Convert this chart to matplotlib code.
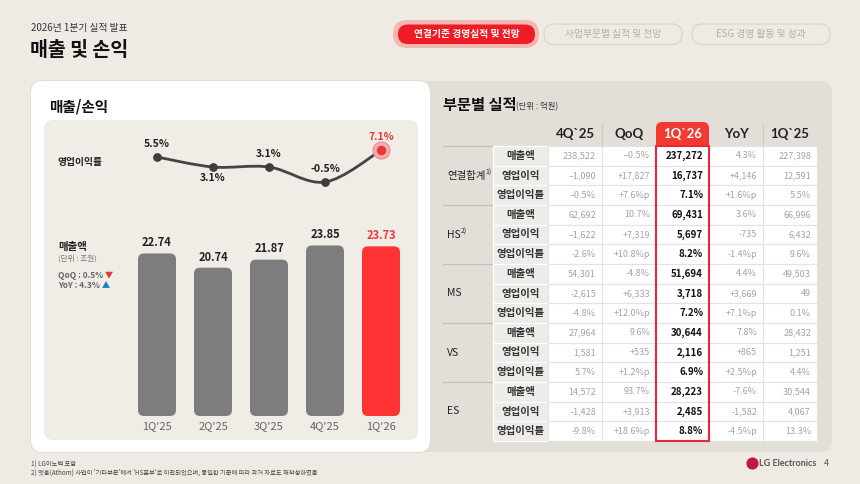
import matplotlib
matplotlib.use("Agg")
import matplotlib.pyplot as plt
from matplotlib.patches import FancyBboxPatch, Rectangle, PathPatch
from matplotlib.path import Path

plt.rcParams['font.family'] = ['Noto Sans CJK KR', 'DejaVu Sans']

# ---------------- data ----------------
quarters = ["1Q'25", "2Q'25", "3Q'25", "4Q'25", "1Q'26"]
sales = [22.74, 20.74, 21.87, 23.85, 23.73]
op_margin = [5.5, 3.1, 3.1, -0.5, 7.1]
margin_label_side = [1, -1, 1, 1, 1]

table_columns = ["4Q`25", "QoQ", "1Q`26", "YoY", "1Q`25"]
segments = ["연결합계", "HS", "MS", "VS", "ES"]
segment_notes = ["1)", "2)", "", "", ""]
metrics = ["매출액", "영업이익", "영업이익률"]
total_rows = [["238,522", "–0.5%", "237,272", "4.3%", "227,398"],
              ["–1,090", "+17,827", "16,737", "+4,146", "12,591"],
              ["–0.5%", "+7.6%p", "7.1%", "+1.6%p", "5.5%"]]
hs_rows = [["62,692", "10.7%", "69,431", "3.6%", "66,996"],
           ["–1,622", "+7,319", "5,697", "-735", "6,432"],
           ["-2.6%", "+10.8%p", "8.2%", "-1.4%p", "9.6%"]]
ms_rows = [["54,301", "-4.8%", "51,694", "4.4%", "49,503"],
           ["-2,615", "+6,333", "3,718", "+3,669", "49"],
           ["-4.8%", "+12.0%p", "7.2%", "+7.1%p", "0.1%"]]
vs_rows = [["27,964", "9.6%", "30,644", "7.8%", "28,432"],
           ["1,581", "+535", "2,116", "+865", "1,251"],
           ["5.7%", "+1.2%p", "6.9%", "+2.5%p", "4.4%"]]
es_rows = [["14,572", "93.7%", "28,223", "-7.6%", "30,544"],
           ["-1,428", "+3,913", "2,485", "-1,582", "4,067"],
           ["-9.8%", "+18.6%p", "8.8%", "-4.5%p", "13.3%"]]
segment_rows = [total_rows, hs_rows, ms_rows, vs_rows, es_rows]
highlight_col = 2

# ---------------- style ----------------
PAGE = "#EFEBE4"
PANEL = "#E3DFD8"
INNER = "#F0EDE7"
RED = "#EE1C25"
BARRED = "#FF3333"
GREY_BAR = "#7D7D7D"
LATIN = ['Lato', 'DejaVu Sans']

W, H = 860, 484
fig = plt.figure(figsize=(W / 100, H / 100), dpi=100)
fig.patch.set_facecolor(PAGE)
bg = fig.add_axes([0, 0, 1, 1])
bg.set_xlim(0, W)
bg.set_ylim(H, 0)
bg.axis('off')


def rbox(ax, x0, y0, x1, y1, r, fc, ec="none", lw=0, z=1, alpha=1):
    p = FancyBboxPatch((x0, y0), x1 - x0, y1 - y0,
                       boxstyle=f"round,pad=0,rounding_size={r}",
                       fc=fc, ec=ec, lw=lw, zorder=z, alpha=alpha)
    ax.add_patch(p)
    return p


# header
bg.text(31, 28.5, "2026년 1분기 실적 발표", fontsize=7, color="#333333", va='center', ha='left')
bg.text(30, 51, "매출 및 손익", fontsize=14, fontweight='bold', color="#111111", va='center', ha='left')

# tabs
rbox(bg, 393, 20, 539, 48, 14, "#F3B8B4", z=1)
rbox(bg, 398, 24.5, 535, 44, 9.7, RED, z=2)
bg.text(466.5, 34.5, "연결기준 경영실적 및 전망", fontsize=7, fontweight='bold', color="white",
        ha='center', va='center', zorder=3)
rbox(bg, 544, 24, 682, 44.5, 10, PAGE, ec="#DCD7CF", lw=1, z=2)
bg.text(613, 34.5, "사업부문별 실적 및 전망", fontsize=7, color="#B5AFA7", ha='center', va='center', zorder=3)
rbox(bg, 692, 24, 830, 44.5, 10, PAGE, ec="#DCD7CF", lw=1, z=2)
bg.text(761, 34.5, "ESG 경영 활동 및 성과", fontsize=7, color="#B5AFA7", ha='center', va='center', zorder=3)

# right panel and left card
rbox(bg, 412, 81, 832, 452, 12, PANEL, z=1)
rbox(bg, 30, 80, 431, 453, 13, "#E2DDD5", z=2)
rbox(bg, 31, 81, 430, 452, 12, "white", z=3)
rbox(bg, 44, 120, 418, 440, 9, INNER, z=4)
bg.text(49, 106, "매출/손익", fontsize=10.5, fontweight='bold', color="#111111", va='center', ha='left', zorder=5)

# left labels in chart
bg.text(58, 162.5, "영업이익률", fontsize=7, fontweight='bold', color="#222222", va='center', zorder=6)
bg.text(58, 247, "매출액", fontsize=7.5, fontweight='bold', color="#222222", va='center', zorder=6)
bg.text(58, 258.5, "(단위 : 조원)", fontsize=5.5, color="#777777", va='center', zorder=6)
t1 = bg.text(58, 275, "QoQ : 0.5%", fontsize=6, fontweight='bold', color="#666666", va='center', zorder=6)
bg.annotate(" ▼", xy=(1, 0.5), xycoords=t1, fontsize=6, color="#E53935", va='center', ha='left', zorder=6)
t2 = bg.text(58, 286, "YoY : 4.3%", fontsize=6, fontweight='bold', color="#666666", va='center', zorder=6)
bg.annotate(" ▲", xy=(1, 0.5), xycoords=t2, fontsize=6, color="#1E7BC8", va='center', ha='left', zorder=6)

# ---------------- chart axes ----------------
ax_l, ax_r = 44, 418
ax_top, ax_bot = 130, 416
x0_px, dx_px = 157, 56
bar_px_per_unit = 7.15
line_px_per_unit = 4.17
line_ref_val, line_ref_px = 5.5, 157

xlim = ((ax_l - x0_px) / dx_px, (ax_r - x0_px) / dx_px)
ax = fig.add_axes([ax_l / W, (H - ax_bot) / H, (ax_r - ax_l) / W, (ax_bot - ax_top) / H])
ax.set_facecolor('none')
ax.set_xlim(*xlim)
ax.set_ylim(0, (ax_bot - ax_top) / bar_px_per_unit)
for s in ax.spines.values():
    s.set_visible(False)
ax.set_yticks([])
ax.set_xticks(range(len(quarters)))
ax.set_xticklabels(quarters, fontsize=8, color="#666666")
ax.tick_params(axis='x', length=0, pad=4)

bw = 38 / dx_px
aspect = dx_px / bar_px_per_unit
for i, v in enumerate(sales):
    c = BARRED if i == len(sales) - 1 else GREY_BAR
    p = FancyBboxPatch((i - bw / 2, 0), bw, v,
                       boxstyle=f"round,pad=0,rounding_size={6 / dx_px}",
                       mutation_aspect=aspect, fc=c, ec='none', zorder=2)
    ax.add_patch(p)
    ax.annotate(f"{v:.2f}", xy=(i, v), xytext=(0, 3), textcoords='offset points',
                ha='center', va='bottom', fontsize=8, fontweight='bold',
                color="#F03A3A" if i == len(sales) - 1 else "#222222")

ax2 = ax.twinx()
ax2.set_facecolor('none')
ax2.axis('off')
ax2.set_xlim(*xlim)
ax2.set_ylim(line_ref_val - (ax_bot - line_ref_px) / line_px_per_unit,
             line_ref_val + (line_ref_px - ax_top) / line_px_per_unit)

pts = list(zip(range(len(op_margin)), op_margin))
verts = [pts[0]]
codes = [Path.MOVETO]
for i in range(len(pts) - 1):
    p0 = pts[i - 1] if i > 0 else pts[i]
    p1 = pts[i]
    p2 = pts[i + 1]
    p3 = pts[i + 2] if i + 2 < len(pts) else pts[i + 1]
    c1 = (p1[0] + (p2[0] - p0[0]) / 6, p1[1] + (p2[1] - p0[1]) / 6)
    c2 = (p2[0] - (p3[0] - p1[0]) / 6, p2[1] - (p3[1] - p1[1]) / 6)
    verts += [c1, c2, p2]
    codes += [Path.CURVE4] * 3
ax2.add_patch(PathPatch(Path(verts, codes), fc='none', ec="#444444", lw=2, zorder=3))
n = len(op_margin)
ax2.scatter(range(n - 1), op_margin[:-1], s=28, color="#3D3D3D", zorder=4)
ax2.scatter([n - 1], [op_margin[-1]], s=150, color="#F5AFAF", ec="#F08C8C", lw=0.8, zorder=4)
ax2.scatter([n - 1], [op_margin[-1]], s=34, color="#EE3535", zorder=5)
for i, (v, side) in enumerate(zip(op_margin, margin_label_side)):
    off = 9.5 if side > 0 else -8
    ax2.annotate(f"{v:.1f}%", xy=(i, v), xytext=(0, off), textcoords='offset points',
                 ha='center', va='center', fontsize=7.5, fontweight='bold',
                 color="#E53935" if i == n - 1 else "#222222")

# ---------------- table ----------------
tt = bg.text(443, 105, "부문별 실적", fontsize=11, fontweight='bold', color="#111111",
             va='center', ha='left', zorder=5)
bg.annotate("(단위 : 억원)", xy=(1, 0.4), xycoords=tt, fontsize=6, color="#333333",
            va='center', ha='left', zorder=5)

col_edges = [548, 602, 656, 709, 763, 817]
grp_x0, lab_x0 = 443, 493
head_top, row_top, row_bot = 122, 146, 441
nrows = len(segments) * len(metrics)
rh = (row_bot - row_top) / nrows

# header
hx0, hx1 = col_edges[highlight_col], col_edges[highlight_col + 1]
rbox(bg, hx0, head_top, hx1, row_top + 8, 6, "#F23A33", z=5)
for j, name in enumerate(table_columns):
    cx = (col_edges[j] + col_edges[j + 1]) / 2
    bg.text(cx, 134.5, name, fontsize=9.5, fontweight='bold', family=LATIN,
            color="white" if j == highlight_col else "#222222", ha='center', va='center', zorder=7)
for xs in (col_edges[1], col_edges[4]):
    bg.plot([xs, xs], [124, row_top], color="#CFCAC2", lw=0.8, zorder=5)

# body
for g, (seg, note, rows) in enumerate(zip(segments, segment_notes, segment_rows)):
    gy0 = row_top + g * len(metrics) * rh
    bg.plot([grp_x0, lab_x0], [gy0, gy0], color="#C5C0B8", lw=0.9, zorder=6)
    t = bg.text(447, gy0 + 1.5 * rh, seg, fontsize=7.5, color="#222222", ha='left', va='center', zorder=7)
    if note:
        bg.annotate(note, xy=(1, 0.8), xycoords=t, fontsize=5, color="#222222",
                    ha='left', va='center', zorder=7)
    for r, (metric, vals) in enumerate(zip(metrics, rows)):
        y0 = gy0 + r * rh
        bg.add_patch(Rectangle((lab_x0, y0), col_edges[0] - lab_x0, rh, fc="#EDECE9",
                               ec="white", lw=0.8, zorder=6))
        bg.text((lab_x0 + col_edges[0]) / 2, y0 + rh / 2, metric, fontsize=7.5, fontweight='bold',
                color="#333333", ha='center', va='center', zorder=7)
        for j, val in enumerate(vals):
            bg.add_patch(Rectangle((col_edges[j], y0), col_edges[j + 1] - col_edges[j], rh,
                                   fc="white", ec="#E4E2DE", lw=0.8, zorder=6))
            hl = j == highlight_col
            bg.text(col_edges[j + 1] - 6, y0 + rh / 2, val, fontsize=7 if hl else 6.5,
                    fontweight='bold' if hl else 'light',
                    color="#111111" if hl else "#A3A3A3", ha='right', va='center', zorder=7)

bg.add_patch(Rectangle((hx0, row_top), hx1 - hx0, row_bot - row_top, fc='none',
                       ec="#E8283A", lw=1.5, zorder=9))

# footer
bg.text(31, 465, "1) LG이노텍 포함", fontsize=4.5, color="#444444", va='center', ha='left')
bg.text(31, 473, "2) 앳홈(Athom) 사업이 '기타부문'에서 'HS본부'로 이관되었으며, 동일한 기준에 따라 과거 자료도 재작성하였음",
        fontsize=4.5, color="#444444", va='center', ha='left')
bg.scatter([752], [463], s=60, color="#C4173F", zorder=5)
bg.text(759, 463, "LG Electronics", fontsize=6.5, fontweight='bold', color="#555555",
        va='center', ha='left', family=LATIN)
bg.text(826, 463, "4", fontsize=6.5, color="#555555", va='center', ha='center')

fig.savefig("out.png", dpi=100, facecolor=PAGE)
